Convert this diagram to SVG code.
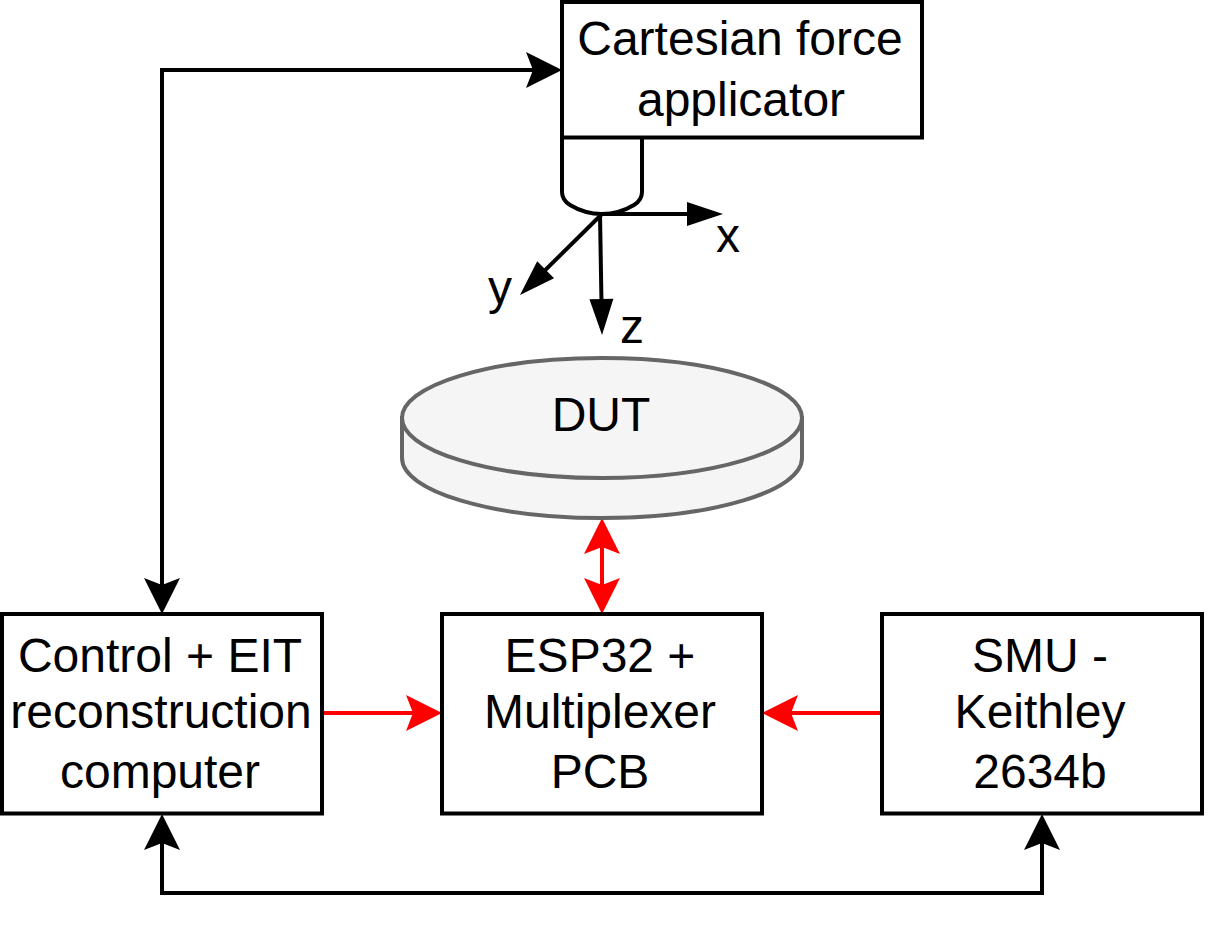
<svg xmlns="http://www.w3.org/2000/svg" width="1208" height="936" viewBox="0 0 1208 936">
<style>
text{font-family:"Liberation Sans",Arial,sans-serif;font-size:48px;fill:#000;text-anchor:middle}
.b{fill:#fff;stroke:#000;stroke-width:4}
.k{fill:none;stroke:#000;stroke-width:4}
.r{fill:none;stroke:#f00;stroke-width:4}
</style>
<defs>
<marker id="ak" markerUnits="userSpaceOnUse" markerWidth="40" markerHeight="40" refX="29" refY="20" orient="auto-start-reverse"><path d="M1 2L37 20L1 38L8 20Z" fill="#000"/></marker>
<marker id="ar" markerUnits="userSpaceOnUse" markerWidth="40" markerHeight="40" refX="29" refY="20" orient="auto-start-reverse"><path d="M1 2L37 20L1 38L8 20Z" fill="#f00"/></marker>
<marker id="ax" markerUnits="userSpaceOnUse" markerWidth="40" markerHeight="40" refX="29" refY="20" orient="auto"><path d="M1 8L37 20L1 32Z" fill="#000"/></marker>
</defs>
<rect width="1208" height="936" fill="#fff"/>
<g id="connectors">
<path class="k" d="M162 606V70H554" marker-start="url(#ak)" marker-end="url(#ak)"/>
<path class="k" d="M162 822V893H1042V822" marker-start="url(#ak)" marker-end="url(#ak)"/>
<path class="r" d="M602 526V606" marker-start="url(#ar)" marker-end="url(#ar)"/>
<path class="r" d="M322 713H434" marker-end="url(#ar)"/>
<path class="r" d="M882 713H770" marker-end="url(#ar)"/>
</g>
<g id="probe"><path class="b" d="M562 137V192Q562 200 570 205Q585 214 602 214Q619 214 634 205Q642 200 642 192V137"/></g>
<g id="axes">
<path class="k" d="M600 214H715" marker-end="url(#ax)"/>
<path class="k" d="M602 214L525.700 289.400" marker-end="url(#ax)"/>
<path class="k" d="M600 214L601.900 327" marker-end="url(#ax)"/>
</g>
<g id="applicator"><rect class="b" x="562" y="2" width="360" height="135.500"/><text x="740" y="55">Cartesian force</text><text x="741" y="116">applicator</text></g>
<g id="axis-x"><text x="728" y="252">x</text></g>
<g id="axis-y"><text x="500" y="304">y</text></g>
<g id="axis-z"><text x="632" y="343">z</text></g>
<g id="dut"><path d="M402 418V458C402 491 491 518 602 518C713 518 802 491 802 458V418Z" fill="#f5f5f5" stroke="#666" stroke-width="4"/><ellipse cx="602" cy="418" rx="200" ry="60" fill="#f5f5f5" stroke="#666" stroke-width="4"/><text x="601" y="431">DUT</text></g>
<g id="computer"><rect class="b" x="2" y="614" width="320" height="199.500"/><text x="160" y="672">Control + EIT</text><text x="161" y="728">reconstruction</text><text x="160" y="788">computer</text></g>
<g id="esp32"><rect class="b" x="442" y="614" width="320" height="199.500"/><text x="600" y="672">ESP32 +</text><text x="600" y="728">Multiplexer</text><text x="600" y="788">PCB</text></g>
<g id="smu"><rect class="b" x="882" y="614" width="320" height="199.500"/><text x="1040" y="672">SMU -</text><text x="1040" y="728">Keithley</text><text x="1040" y="788">2634b</text></g>
</svg>
